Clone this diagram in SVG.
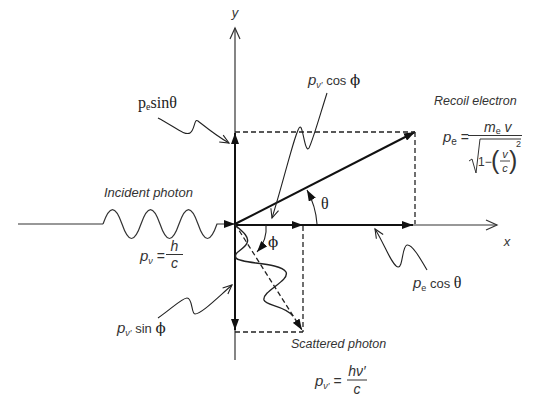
<svg xmlns="http://www.w3.org/2000/svg" width="534" height="404" viewBox="0 0 534 404">
<style>
.ax{fill:none;stroke:#333;stroke-width:1.2}
.vec{fill:none;stroke:#111;stroke-width:2}
.dash{fill:none;stroke:#222;stroke-width:1.3;stroke-dasharray:5 3}
.wave{fill:none;stroke:#222;stroke-width:1.4}
.sq{fill:none;stroke:#222;stroke-width:1.1}
.t{font-family:"Liberation Sans",Arial,sans-serif;fill:#333}
.i{font-style:italic}
.s{font-family:"Liberation Serif","Times New Roman",serif;fill:#222}
.g{font-family:"DejaVu Serif","Liberation Serif",serif;fill:#222}
</style>
<defs>
<marker id="fa" markerUnits="userSpaceOnUse" markerWidth="12" markerHeight="8" refX="11" refY="4" orient="auto"><path d="M0,0 L11,4 L0,8 z" fill="#111"/></marker>
<marker id="oa" markerUnits="userSpaceOnUse" markerWidth="14" markerHeight="12" refX="12" refY="6" orient="auto"><path d="M1,1 L12,6 L1,11" fill="none" stroke="#333" stroke-width="1.2"/></marker>
<marker id="sa" markerUnits="userSpaceOnUse" markerWidth="12" markerHeight="10" refX="10" refY="5" orient="auto"><path d="M1,1 L10,5 L1,9" fill="none" stroke="#222" stroke-width="1.1"/></marker>
</defs>
<g id="connectors">
<line class="ax" x1="235" y1="360" x2="235" y2="28" marker-end="url(#oa)"/>
<line class="ax" x1="413" y1="225" x2="497" y2="225" marker-end="url(#oa)"/>
<line class="ax" x1="18" y1="224" x2="103" y2="224"/>
<path class="ax" d="M103,224 C109.65,204.7 115.35,204.7 122,224 C128.65,243.3 134.35,243.3 141,224 C147.65,204.7 153.35,204.7 160,224 C166.65,243.3 172.35,243.3 179,224 C185.65,204.7 191.35,204.7 198,224 C204.65,243.3 210.35,243.3 217,224 L235,224" stroke-width="1.4" marker-end="url(#fa)"/>
<line class="vec" x1="235" y1="225" x2="303" y2="225" marker-end="url(#fa)"/>
<line class="vec" x1="303" y1="225" x2="413" y2="225" marker-end="url(#fa)"/>
<line class="vec" x1="235" y1="224" x2="235" y2="133" marker-end="url(#fa)"/>
<line class="vec" x1="235" y1="224" x2="235" y2="330" marker-end="url(#fa)"/>
<line class="vec" x1="235" y1="224" x2="415" y2="132" marker-end="url(#fa)"/>
<line class="dash" x1="235" y1="132" x2="415" y2="132"/>
<line class="dash" x1="415" y1="132" x2="415" y2="224"/>
<line class="dash" x1="303" y1="226" x2="303" y2="332"/>
<line class="dash" x1="235" y1="332" x2="303" y2="332"/>
<line class="dash" x1="235" y1="224" x2="302" y2="330" marker-end="url(#fa)"/>
<path class="wave" d="M235,225 C242,231 250,237 247,243 C244,250 233,252 236,258 C240,264 280,262 286,272 C290,281 262,291 264,300 C266,306 284,305 293,316"/>
<path class="sq" d="M317,224 A82,82 0 0 0 307,190" marker-end="url(#fa)"/>
<path class="sq" d="M266,225 C267,235 264,244 257,252" marker-end="url(#fa)"/>
<path class="sq" d="M158,118 C175,127 185,136 190,133 C195,130 194,118 198,121 C202,124 215,135 229,143" marker-end="url(#sa)"/>
<path class="sq" d="M327,93 C320,115 313,140 309,148 C305,154 303,126 300,127 C296,128 284,180 272,218" marker-end="url(#sa)"/>
<path class="sq" d="M427,270 C420,258 412,244 407,245 C402,246 403,268 398,267 C392,266 385,245 375,229" marker-end="url(#sa)"/>
<path class="sq" d="M158,318 C170,310 182,298 187,298 C193,298 191,314 195,314 C201,314 215,300 232,285" marker-end="url(#sa)"/>
</g>
<g id="axis-y"><text class="t i" x="235" y="17" font-size="13" text-anchor="middle">y</text></g>
<g id="axis-x"><text class="t i" x="507" y="246" font-size="13" text-anchor="middle">x</text></g>
<g id="pe-sin"><text class="s" x="138" y="108" font-size="16">p<tspan font-size="10" dy="2">e</tspan><tspan dy="-2">sinθ</tspan></text></g>
<g id="pv-cos"><text class="t" x="308" y="85" font-size="13"><tspan class="i" font-size="15">p</tspan><tspan class="i" font-size="9" dy="3">ν′</tspan><tspan dy="-3"> cos </tspan><tspan class="g" font-size="15">ϕ</tspan></text></g>
<g id="recoil"><text class="t i" x="434" y="105" font-size="12.5">Recoil electron</text></g>
<g id="pe-formula">
<text class="t" x="443" y="142" font-size="15"><tspan class="i">p</tspan><tspan font-size="10" dy="3">e</tspan><tspan dy="-3" font-size="14"> =</tspan></text>
<text class="t" x="484" y="132" font-size="14"><tspan class="i">m</tspan><tspan font-size="9" dy="2">e</tspan><tspan class="i" dy="-2"> v</tspan></text>
<line x1="468" y1="135.5" x2="522" y2="135.5" stroke="#333" stroke-width="1"/>
<path d="M469,161 L472,159 L476,173 L480,139 L521,139" fill="none" stroke="#333" stroke-width="1"/>
<text class="t" x="478" y="166" font-size="12">1−</text>
<text class="t" x="491" y="169" font-size="25" fill="#555">(</text>
<text class="t i" x="505" y="158" font-size="11" text-anchor="middle">v</text>
<line x1="500" y1="161" x2="510" y2="161" stroke="#333" stroke-width="0.9"/>
<text class="t i" x="505" y="172" font-size="11" text-anchor="middle">c</text>
<text class="t" x="509" y="169" font-size="25" fill="#555">)</text>
<text class="t" x="516" y="147" font-size="9">2</text>
</g>
<g id="incident"><text class="t i" x="104" y="197" font-size="13">Incident photon</text></g>
<g id="pv-formula">
<text class="t" x="140" y="261" font-size="15"><tspan class="i">p</tspan><tspan class="i" font-size="9" dy="3">ν</tspan><tspan dy="-3" font-size="14"> =</tspan></text>
<text class="t i" x="174.5" y="251" font-size="14" text-anchor="middle">h</text>
<line x1="166" y1="254.5" x2="183" y2="254.5" stroke="#333" stroke-width="1"/>
<text class="t i" x="174.5" y="268" font-size="14" text-anchor="middle">c</text>
</g>
<g id="theta"><text class="s" x="321" y="209" font-size="16">θ</text></g>
<g id="phi"><text class="g" x="268" y="247" font-size="15">ϕ</text></g>
<g id="pe-cos"><text class="t" x="413" y="288" font-size="13"><tspan class="i" font-size="15">p</tspan><tspan font-size="9" dy="3">e</tspan><tspan dy="-3"> cos </tspan><tspan class="s" font-size="16">θ</tspan></text></g>
<g id="pv-sin"><text class="t" x="117" y="333" font-size="13"><tspan class="i" font-size="15">p</tspan><tspan class="i" font-size="9" dy="3">ν′</tspan><tspan dy="-3"> sin </tspan><tspan class="g" font-size="15">ϕ</tspan></text></g>
<g id="scattered"><text class="t i" x="291" y="348" font-size="12.5">Scattered photon</text></g>
<g id="pv2-formula">
<text class="t" x="315" y="386" font-size="15"><tspan class="i">p</tspan><tspan class="i" font-size="9" dy="3">ν′</tspan><tspan dy="-3" font-size="14"> =</tspan></text>
<text class="t i" x="357" y="376" font-size="14" text-anchor="middle">hν′</text>
<line x1="347" y1="380" x2="367" y2="380" stroke="#333" stroke-width="1"/>
<text class="t i" x="357" y="394" font-size="14" text-anchor="middle">c</text>
</g>
</svg>
